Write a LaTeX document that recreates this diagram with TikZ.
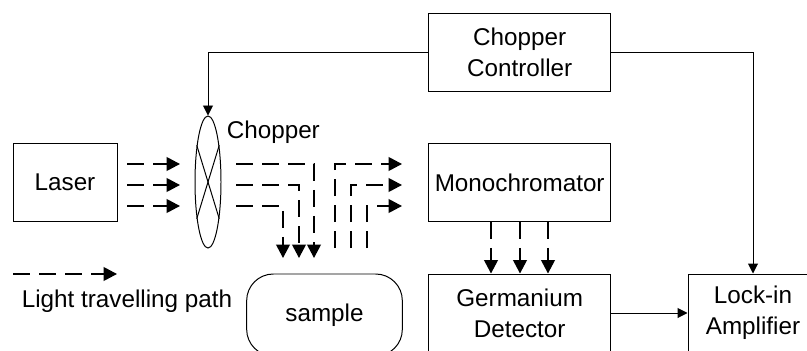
\documentclass[tikz,border=0pt]{standalone}
\usepackage{fontspec}
\setmainfont{Liberation Sans}
\usetikzlibrary{arrows.meta,shapes.geometric}
\tikzset{
	boxnode/.style={rectangle, draw=black, line width=0.85pt, inner sep=0in, align=center, font=\fontsize{20.7}{26.4}\selectfont},
	plainlabel/.style={inner sep=0in, font=\fontsize{20.7}{26.4}\selectfont},
	wire/.style={-{Triangle[length=0.3cm,width=0.3cm]}, line width=0.85pt},
	lightpath/.style={-{Triangle[length=0.4cm,width=0.41cm]}, line width=1.4pt, dash pattern=on 0.51cm off 0.27cm},
}
\begin{document}
\begin{tikzpicture}
		\useasboundingbox (0,0) rectangle (24.21,10.5);
		\clip (0,0) rectangle (24.21,10.5);
		\node[boxnode, minimum width=5.46cm, minimum height=2.34cm](controller) at (15.59,8.94){Chopper\\Controller};
		\node[boxnode, minimum width=5.46cm, minimum height=2.34cm](mono) at (15.59,5.025){Monochromator};
		\node[boxnode, minimum width=5.46cm, minimum height=2.34cm](detector) at (15.59,1.11){Germanium\\Detector};
		\node[boxnode, minimum width=3.9cm, minimum height=2.34cm](lockin) at (22.59,1.11){Lock-in\\Amplifier};
		\node[boxnode, minimum width=3.12cm, minimum height=2.34cm](laser) at (1.95,5.025){Laser};
		\node[boxnode, rounded corners=0.8cm, minimum width=4.67cm, minimum height=2.46cm](sample) at (9.735,1.05){sample};
		\node[ellipse, draw=black, line width=0.85pt, inner sep=0in, minimum width=0.78cm, minimum height=3.96cm](chopper) at (6.24,5.04){};
		\node[plainlabel](chopperlabel) at (8.2,6.525){Chopper};
		\node[plainlabel](pathlabel) at (3.81,1.47){Light travelling path};
		% cross on the chopper
		\draw [line width=0.85pt] (chopper.107) -- (chopper.287);
		\draw [line width=0.85pt] (chopper.73) -- (chopper.253);
		% free ends of the light paths
		\coordinate (laserA) at (3.81,5.58);
		\coordinate (laserB) at (3.81,4.95);
		\coordinate (laserC) at (3.81,4.32);
		\coordinate (inA) at (5.4,5.58);
		\coordinate (inB) at (5.4,4.95);
		\coordinate (inC) at (5.4,4.32);
		\coordinate (outA) at (7.08,5.58);
		\coordinate (outB) at (7.08,4.95);
		\coordinate (outC) at (7.08,4.32);
		\coordinate (downA) at (9.42,2.76);
		\coordinate (downB) at (8.97,2.76);
		\coordinate (downC) at (8.49,2.76);
		\coordinate (upA) at (10.05,3.06);
		\coordinate (upB) at (10.53,3.06);
		\coordinate (upC) at (11.01,3.06);
		\coordinate (specA) at (12.06,5.58);
		\coordinate (specB) at (12.06,4.95);
		\coordinate (specC) at (12.06,4.32);
		\coordinate (legendstart) at (0.39,2.28);
		\coordinate (legendend) at (3.51,2.28);
		% electrical connections
		\draw [wire] (controller.west) -| (chopper.north);
		\draw [wire] (controller.east) -| (lockin.north);
		\draw [wire] (detector.east) -- (lockin.west);
		% light
		\draw [lightpath] (laserA) -- (inA);
		\draw [lightpath] (laserB) -- (inB);
		\draw [lightpath] (laserC) -- (inC);
		\draw [lightpath] (outA) -| (downA);
		\draw [lightpath] (outB) -| (downB);
		\draw [lightpath] (outC) -| (downC);
		\draw [lightpath] (upA) |- (specA);
		\draw [lightpath] (upB) |- (specB);
		\draw [lightpath] (upC) |- (specC);
		\draw [lightpath] ([xshift=-0.86cm]mono.south) -- ([xshift=-0.86cm]detector.north);
		\draw [lightpath] ([xshift=0.01cm]mono.south) -- ([xshift=0.01cm]detector.north);
		\draw [lightpath] ([xshift=0.85cm]mono.south) -- ([xshift=0.85cm]detector.north);
		\draw [lightpath] (legendstart) -- (legendend);
	\end{tikzpicture}
\end{document}
